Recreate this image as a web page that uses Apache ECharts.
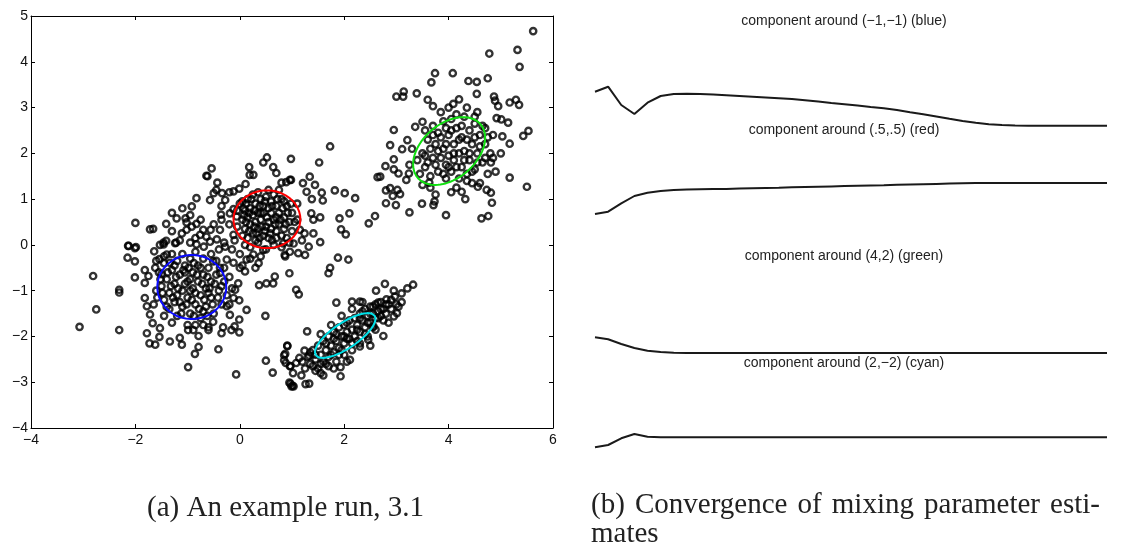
<!DOCTYPE html>
<html>
<head>
<meta charset="utf-8">
<script src="https://cdn.jsdelivr.net/npm/echarts@6/dist/echarts.min.js"></script>
<style>
  html, body { margin: 0; padding: 0; background: #fff; }
  #main { width: 1143px; height: 550px; }
</style>
</head>
<body>
<div id="main"></div>
<script>
// scatter points, grouped by the cluster they sit in
const bluePts = [
  [-2.81, -0.68], [-2.75, -1.41], [-3.07, -1.79], [-2.31, -0.98], [-2.31, -1.04], [-2.31, -1.86],
  [-2.14, -0.02], [-2.01, -0.07], [-2.15, -0.28], [-2.01, -0.36], [-2.01, -0.71], [-1.82, -0.83],
  [-1.75, -0.68], [-1.82, -0.55], [-1.62, -0.5], [-1.54, -0.31], [-1.64, -0.14], [-1.46, 0.01],
  [-1.24, 0.04], [-1.4, -0.21], [-1.34, -0.39], [-1.5, -0.64], [-1.82, -1.16], [-1.78, -1.34],
  [-1.72, -1.52], [-1.67, -1.71], [-1.78, -1.93], [-1.73, -2.15], [-1.62, -2.18], [-1.54, -2.01],
  [-1.53, -1.82], [-1.34, -2.11], [-1.15, -2.03], [-1.11, -2.18], [-0.99, -1.86], [-0.99, -2.67],
  [-0.86, -2.38], [-0.79, -2.23], [-0.79, -1.99], [-0.89, -1.86], [-0.7, -1.75], [-0.6, -1.86],
  [-0.51, -1.68], [-0.41, -2.28], [-0.35, -1.93], [-0.32, -1.8], [-0.16, -1.86], [-0.1, -1.78],
  [-0.01, -1.91], [-0.07, -2.83], [-0.01, -1.63], [-0.01, -1.21], [0.13, -1.42], [-0.19, -1.53],
  [-0.25, -1.34], [-0.12, -1.16], [-0.09, -0.98], [-0.03, -0.84], [0.1, -0.58], [0.36, -0.4],
  [0.37, -0.88], [0.51, -0.84], [0.64, -0.84], [0.67, -0.69], [0.49, -1.55], [0.83, 0.03],
  [0.96, -0.15], [0.86, -0.22], [-0.51, -0.36], [-0.38, -0.61], [-0.25, -0.32], [-0.12, -0.39],
  [0.0, -0.5], [0.13, -0.32], [0.26, -0.21], [0.45, -0.11],
  [-1.55, -0.6], [-1.5, -0.9], [-1.45, -1.2], [-1.45, -0.4], [-1.4, -0.75], [-1.35, -1.05],
  [-1.35, -1.4], [-1.3, -0.55], [-1.25, -0.85], [-1.25, -1.25], [-1.2, -0.35], [-1.2, -1.55],
  [-1.15, -0.65], [-1.1, -1.0], [-1.1, -1.35], [-1.05, -0.45], [-1.0, -0.8], [-1.0, -1.15],
  [-0.95, -1.5], [-0.95, -0.3], [-0.9, -0.6], [-0.9, -0.95], [-0.85, -1.3], [-0.8, -0.45],
  [-0.8, -0.8], [-0.75, -1.1], [-0.75, -1.6], [-0.7, -0.3], [-0.7, -0.65], [-0.65, -0.95],
  [-0.65, -1.35], [-0.6, -0.5], [-0.55, -0.8], [-0.55, -1.15], [-0.5, -1.5], [-0.45, -0.35],
  [-0.45, -0.65], [-0.4, -1.0], [-0.35, -1.3], [-0.3, -0.8], [-0.25, -1.1], [-1.6, -1.0],
  [-1.65, -1.3], [-1.6, -0.35], [-1.0, -1.75], [-0.85, -1.75], [-0.6, -1.8], [-1.3, -1.7],
  [-1.45, -1.55], [-0.3, -0.5], [-0.2, -0.7], [-0.15, -0.95], [-0.2, -1.3], [-1.1, -0.2],
  [-0.85, -0.15], [-0.55, -0.2], [-1.3, -0.2], [-1.05, -0.6], [-0.7, -1.45], [-1.2, -1.1],
  [-0.95, -1.0], [-0.6, -1.05], [-0.3, 0.05], [-0.15, -0.1], [0.0, -0.2], [0.1, 0.0],
  [0.2, -0.3], [-0.4, -0.1], [0.3, -0.5], [0.05, -0.45], [-0.1, 0.1], [0.4, -0.25],
  [-1.52, -0.75], [-1.48, -1.05], [-1.38, -0.6], [-1.32, -0.9], [-1.28, -1.15], [-1.22, -0.7],
  [-1.18, -0.95], [-1.15, -1.25], [-1.08, -0.55], [-1.05, -0.85], [-1.02, -1.3], [-0.98, -0.5],
  [-0.95, -0.75], [-0.92, -1.2], [-0.88, -0.4], [-0.85, -1.05], [-0.82, -0.65], [-0.78, -1.4],
  [-0.72, -0.85], [-0.68, -1.2], [-0.62, -0.7], [-0.58, -0.95], [-0.52, -1.3], [-0.48, -0.85],
  [-0.42, -1.15], [-0.38, -0.5], [-1.4, -1.35], [-1.12, -1.5], [-0.88, -1.55], [-0.62, -1.55],
  [-1.25, -0.45], [-0.75, -0.5], [-1.58, -1.15], [-1.45, -0.25], [-0.35, -0.9]
];

const redPts = [
  [-2.0, 0.48], [-1.72, 0.34], [-1.66, 0.35], [-1.41, 0.46], [-1.21, 0.58], [-1.1, 0.8],
  [-0.92, 0.84], [-0.83, 1.02], [-0.64, 1.51], [-0.62, 1.5], [-0.54, 1.67], [-0.43, 1.36],
  [-0.45, 1.2], [-0.57, 0.98], [-0.5, 1.13], [-0.34, 1.13], [-0.2, 1.15], [-0.12, 1.17],
  [-0.28, 0.98], [-0.01, 1.23], [0.11, 1.33], [0.18, 1.7], [0.26, 1.53], [0.19, 1.53],
  [0.45, 1.8], [0.52, 1.91], [0.64, 1.7], [0.7, 1.57], [0.98, 1.88], [0.8, 1.36],
  [0.89, 1.37], [0.98, 1.42], [-2.13, -0.02], [-1.99, -0.05], [-1.53, 0.0], [-1.46, 0.05],
  [-1.41, 0.09], [-1.22, 0.05], [-1.11, 0.25], [-1.02, 0.33], [-0.92, 0.4], [-0.83, 0.46],
  [-1.02, 0.49], [-1.04, 0.58], [-0.76, 0.22], [-0.64, 0.18], [-0.7, 0.33], [-0.56, 0.33],
  [-0.38, 0.33], [-0.35, 0.55], [-0.36, 0.66], [-0.19, 0.69], [-0.12, 0.78], [0.0, 0.9],
  [0.07, 0.8], [-0.06, 0.62], [-0.05, 0.4], [-0.12, 0.22], [-0.28, -0.04], [-0.44, 0.12],
  [-0.57, 0.07], [-0.83, 0.01], [-0.95, 0.05], [-0.69, -0.04], [-1.3, 0.7], [-0.95, 0.65],
  [-0.75, 0.55], [-0.35, 0.85], [-0.2, 0.45], [-0.5, 0.45], [-0.85, 0.15], [-1.15, 0.1],
  [-1.3, 0.3],
  [0.05, 0.95], [0.1, 0.75], [0.15, 1.0], [0.2, 0.8], [0.25, 1.1], [0.3, 0.9], [0.35, 0.7],
  [0.4, 1.0], [0.45, 0.85], [0.5, 1.05], [0.55, 0.8], [0.6, 0.95], [0.65, 1.1], [0.7, 0.85],
  [0.75, 0.7], [0.8, 1.0], [0.85, 0.6], [0.9, 0.85], [0.95, 0.5], [1.0, 0.7], [0.05, 0.55],
  [0.1, 0.35], [0.15, 0.6], [0.2, 0.45], [0.25, 0.25], [0.3, 0.5], [0.35, 0.35], [0.4, 0.55],
  [0.45, 0.2], [0.5, 0.4], [0.55, 0.15], [0.6, 0.35], [0.65, 0.55], [0.7, 0.3], [0.75, 0.45],
  [0.8, 0.2], [0.85, 0.35], [0.9, 0.15], [1.0, 0.3], [0.3, 0.1], [0.15, 0.15], [0.05, 0.2],
  [0.6, 0.7], [0.25, 0.65], [0.45, 0.7], [0.7, 0.6], [0.35, 0.05], [0.65, 0.0], [0.95, 0.05],
  [0.2, -0.05], [0.5, -0.1], [0.8, -0.05],
  [0.08, 0.65], [0.12, 0.9], [0.18, 0.3], [0.22, 1.0], [0.28, 0.75], [0.32, 0.25], [0.38, 0.85],
  [0.42, 0.4], [0.48, 0.95], [0.52, 0.6], [0.58, 0.25], [0.62, 0.85], [0.68, 0.45], [0.72, 1.0],
  [0.78, 0.55], [0.82, 0.8], [0.88, 0.45], [0.92, 0.7], [0.98, 0.9], [1.05, 0.5], [0.12, 0.5],
  [0.38, 0.15], [0.55, 0.5], [0.48, 0.3], [0.62, 0.1], [0.85, 0.95], [0.28, 0.4], [0.4, 0.7],
  [0.7, 0.15], [0.18, 0.7], [0.55, 1.2], [0.35, 1.15], [0.75, 1.2], [1.1, 0.9], [1.1, 0.55],
  [-0.05, 0.75],
  [1.52, 1.8], [1.73, 2.15], [1.82, 1.19], [2.01, 1.13], [2.21, 1.02], [1.57, 1.14],
  [1.59, 0.97], [1.38, 1.0], [1.44, 1.31], [1.34, 1.49], [1.21, 1.35], [1.28, 1.16],
  [0.96, 1.42], [1.54, 0.6], [1.91, 0.58], [2.1, 0.69], [1.94, 0.34], [2.03, 0.23],
  [1.41, 0.55], [1.15, 0.33], [1.24, 0.25], [1.37, 0.69], [1.54, 0.06], [0.95, -0.62],
  [1.08, -0.98], [1.13, -1.08], [1.7, -0.62], [1.73, -0.5], [1.88, -0.28], [2.08, -0.32],
  [1.25, -0.22], [1.12, -0.18], [0.87, -0.25], [1.03, 0.03], [1.19, 0.1], [1.32, -0.04],
  [1.41, 0.25]
];

const greenPts = [
  [5.62, 4.67], [4.78, 4.18], [5.32, 4.26], [5.36, 3.89], [4.75, 3.64], [4.54, 3.56],
  [4.38, 3.58], [4.08, 3.75], [3.74, 3.75], [3.67, 3.55], [3.14, 3.35], [3.13, 3.24],
  [3.0, 3.24], [3.39, 3.31], [3.6, 3.17], [3.7, 3.03], [4.09, 3.08], [4.2, 3.18],
  [4.54, 3.3], [4.87, 3.24], [4.89, 3.15], [4.95, 3.03], [5.17, 3.11], [5.29, 3.17],
  [5.35, 3.06], [5.53, 2.49], [5.43, 2.38], [5.17, 2.21], [5.03, 2.37], [5.14, 2.67],
  [5.01, 2.74], [4.92, 2.77], [4.81, 1.8], [5.17, 1.47], [5.5, 1.27], [4.81, 1.14],
  [4.73, 1.2], [4.83, 0.92], [4.76, 0.63], [4.63, 0.58], [4.56, 1.27], [4.32, 1.0],
  [4.25, 1.16], [3.95, 0.65], [3.73, 0.95], [3.71, 0.87], [3.49, 0.9], [3.25, 0.71],
  [2.99, 0.87], [2.8, 0.91], [2.59, 0.63], [2.47, 0.47], [2.93, 1.07], [2.88, 1.24],
  [2.8, 1.19], [3.02, 1.2], [3.07, 1.11], [2.64, 1.48], [2.69, 1.49], [2.79, 1.72],
  [2.95, 1.65], [3.04, 1.56], [3.19, 1.42], [3.24, 1.56], [2.95, 1.87], [2.88, 2.18],
  [2.95, 2.51], [3.11, 2.09], [3.21, 2.29], [3.36, 2.58], [3.5, 2.69], [3.63, 1.36],
  [3.5, 1.31],
  [3.5, 2.0], [3.55, 1.7], [3.6, 2.3], [3.65, 1.5], [3.7, 2.6], [3.7, 1.9], [3.75, 2.2],
  [3.8, 1.6], [3.8, 2.45], [3.85, 1.9], [3.9, 2.7], [3.9, 2.1], [3.95, 1.45], [3.95, 1.75],
  [4.0, 2.4], [4.0, 1.95], [4.05, 2.75], [4.05, 1.6], [4.1, 2.2], [4.1, 1.85], [4.15, 2.55],
  [4.2, 1.45], [4.2, 2.0], [4.25, 2.35], [4.25, 1.7], [4.3, 2.8], [4.3, 2.05], [4.35, 1.55],
  [4.4, 2.5], [4.4, 1.85], [4.45, 2.2], [4.5, 2.65], [4.5, 1.65], [4.55, 2.0], [4.6, 2.4],
  [4.65, 1.8], [4.7, 2.2], [4.7, 2.55], [4.75, 1.55], [4.8, 2.0], [3.45, 1.55], [3.55, 2.5],
  [3.65, 1.25], [3.85, 2.9], [4.0, 3.0], [4.15, 1.25], [4.35, 3.0], [4.55, 2.9], [4.6, 1.35],
  [4.85, 2.4], [3.4, 1.85], [3.3, 2.1], [3.25, 1.75], [4.9, 1.6], [5.0, 2.0], [4.45, 1.35],
  [3.75, 1.1], [4.05, 1.15],
  [3.6, 1.8], [3.65, 2.1], [3.75, 1.75], [3.8, 2.05], [3.85, 2.35], [3.9, 1.55], [3.95, 2.2],
  [4.0, 1.7], [4.05, 2.5], [4.1, 2.0], [4.15, 1.7], [4.2, 2.3], [4.25, 2.6], [4.3, 1.85],
  [4.35, 2.3], [4.4, 2.0], [4.45, 1.6], [4.5, 2.35], [4.55, 1.8], [4.6, 2.15], [4.65, 2.6],
  [4.7, 1.9], [3.95, 2.55], [4.15, 2.85], [4.35, 1.4], [3.7, 2.4], [4.75, 2.35], [4.85, 1.9],
  [3.55, 1.95], [4.5, 2.8]
];

const cyanPts = [
  [3.32, -0.87], [3.21, -0.95], [3.1, -1.06], [2.97, -1.13], [2.78, -0.85], [2.61, -1.0],
  [1.85, -1.26], [2.15, -1.24], [2.3, -1.24], [2.65, -1.26], [2.81, -1.19], [3.04, -1.35],
  [3.01, -1.49], [2.95, -1.56], [2.75, -1.99], [2.56, -1.78], [2.46, -2.07], [2.3, -2.22],
  [2.11, -2.51], [1.93, -2.67], [1.93, -2.87], [1.29, -1.89], [1.24, -2.31], [1.33, -2.42],
  [1.14, -2.47], [1.08, -2.58], [0.99, -3.09], [0.91, -2.21], [0.85, -2.41], [0.88, -2.58],
  [0.97, -2.65], [1.18, -2.85], [1.33, -3.03], [0.97, -3.03], [1.03, -3.09], [1.26, -3.04],
  [0.5, -2.53], [0.63, -2.79], [0.91, -2.2], [0.87, -2.38], [0.85, -2.52], [0.96, -2.65],
  [1.02, -2.8], [0.95, -3.01], [1.01, -3.08],
  [1.3, -2.45], [1.35, -2.6], [1.4, -2.3], [1.45, -2.5], [1.5, -2.7], [1.5, -2.2],
  [1.55, -2.4], [1.6, -2.55], [1.6, -2.1], [1.65, -2.3], [1.7, -2.45], [1.7, -2.0],
  [1.75, -2.2], [1.8, -2.35], [1.8, -1.9], [1.85, -2.1], [1.9, -2.25], [1.9, -1.8],
  [1.95, -2.0], [2.0, -2.15], [2.0, -1.75], [2.05, -1.9], [2.1, -2.05], [2.1, -1.65],
  [2.15, -1.85], [2.2, -2.0], [2.2, -1.6], [2.25, -1.75], [2.3, -1.9], [2.3, -1.5],
  [2.35, -1.65], [2.4, -1.8], [2.4, -1.4], [2.45, -1.55], [2.5, -1.7], [2.5, -1.35],
  [2.55, -1.5], [2.6, -1.6], [2.6, -1.3], [2.65, -1.45], [2.7, -1.55], [2.7, -1.25],
  [2.75, -1.4], [2.8, -1.5], [2.85, -1.3], [2.9, -1.4], [1.4, -2.65], [1.55, -2.8],
  [1.7, -2.65], [1.85, -2.55], [2.0, -2.4], [2.15, -2.3], [2.3, -2.15], [2.45, -2.0],
  [2.6, -1.85], [1.55, -1.95], [1.75, -1.75], [1.95, -1.55], [2.15, -1.4], [2.35, -1.25],
  [1.2, -2.55], [1.25, -2.7], [1.6, -2.85], [1.8, -2.7], [2.05, -2.55], [2.5, -2.2],
  [2.85, -1.7], [3.1, -1.25], [2.95, -1.0],
  [1.35, -2.35], [1.45, -2.4], [1.55, -2.6], [1.65, -2.15], [1.75, -2.4], [1.85, -1.95],
  [1.9, -2.4], [2.0, -2.0], [2.05, -1.7], [2.15, -2.15], [2.25, -1.85], [2.3, -1.6],
  [2.4, -1.95], [2.45, -1.7], [2.5, -1.5], [2.55, -1.8], [2.65, -1.6], [2.7, -1.4],
  [2.8, -1.3], [2.9, -1.2], [1.65, -2.6], [1.95, -2.3], [2.25, -2.1], [2.55, -1.35],
  [2.05, -2.05], [1.8, -2.05], [2.35, -1.45], [1.45, -2.75], [2.75, -1.65], [3.0, -1.3]
];

// fitted components: [cx, cy, x half-extent, y half-extent, cross term]
const ellipseBlue = [-0.92, -0.92, 0.66, 0.70, 0];
const ellipseRed = [0.52, 0.56, 0.64, 0.63, 0];
const ellipseGreen = [4.01, 2.05, 0.69, 0.74, 0.20];
const ellipseCyan = [2.02, -1.98, 0.58, 0.49, 0.213];

// mixing parameter estimates per iteration (right panel, height within each strip)
const mixBlue = [38.3, 43.3, 25.0, 16.0, 27.3, 34.0, 36.0, 36.2, 36.0, 35.4, 34.7, 34.0, 33.3, 32.5,
  31.7, 30.9, 29.7, 28.4, 27.1, 25.8, 24.5, 23.1, 21.8, 20.0, 17.8, 15.8, 13.5, 11.2, 9.0, 7.2,
  5.8, 4.9, 4.5, 4.3, 4.3, 4.3, 4.3, 4.3, 4.3, 4.3];
const mixRed = [6.0, 8.3, 16.7, 24.0, 27.3, 29.0, 30.0, 30.4, 30.7, 30.9, 31.1, 31.4, 31.7, 32.0,
  32.3, 32.7, 33.0, 33.3, 33.6, 33.9, 34.2, 34.5, 34.8, 35.2, 35.5, 35.8, 36.1, 36.4, 36.7, 36.9,
  37.0, 37.0, 37.0, 37.0, 37.0, 37.0, 37.0, 36.9, 36.9, 36.9];
const mixGreen = [22.7, 20.7, 16.0, 12.0, 9.3, 8.0, 7.3, 7.0, 7.0, 7.0, 7.0, 7.0, 7.0, 7.0, 7.0,
  7.0, 7.0, 7.0, 7.0, 7.0, 7.0, 7.0, 7.0, 7.0, 7.0, 7.0, 7.0, 7.0, 7.0, 7.0, 7.0, 7.0, 7.0, 7.0,
  7.0, 7.0, 7.0, 7.0, 7.0, 7.0];
const mixCyan = [7.7, 10.0, 16.7, 21.0, 18.3, 17.7, 17.7, 17.7, 17.7, 17.7, 17.7, 17.7, 17.7, 17.7,
  17.7, 17.7, 17.7, 17.7, 17.7, 17.7, 17.7, 17.7, 17.7, 17.7, 17.7, 17.7, 17.7, 17.7, 17.7, 17.7,
  17.7, 17.8, 17.8, 17.8, 17.8, 17.8, 17.8, 17.8, 17.8, 17.8];

const panelTitles = [
  'component around (\u22121,\u22121) (blue)',
  'component around (.5,.5) (red)',
  'component around (4,2) (green)',
  'component around (2,\u22122) (cyan)'
];
const xTicks = [-4, -2, 0, 2, 4, 6];
const yTicks = [-4, -3, -2, -1, 0, 1, 2, 3, 4, 5];
const captionA = '(a) An example run, 3.1';
const captionB1 = ['(b)', 'Convergence', 'of', 'mixing', 'parameter', 'esti-'];
const captionB2 = 'mates';

const chart = echarts.init(document.getElementById('main'));

function ellipsePath(e) {
  const [cx, cy, sx, sy, c] = e;
  const l21 = c / sx;
  const l22 = Math.sqrt(sy * sy - l21 * l21);
  const out = [];
  for (let i = 0; i <= 90; i++) {
    const t = (i / 90) * Math.PI * 2;
    out.push([cx + sx * Math.cos(t), cy + l21 * Math.cos(t) + l22 * Math.sin(t)]);
  }
  return out;
}

const minus = (v) => String(v).replace('-', '\u2212');
const tickFont = { fontFamily: 'Liberation Sans', fontSize: 14, color: '#111' };

// strips of the right panel: top and height in px, y range of each strip
const strips = [
  { top: 80, height: 50, max: 50, data: mixBlue, titleY: 21 },
  { top: 175, height: 45, max: 45, data: mixRed, titleY: 130 },
  { top: 330, height: 30, max: 30, data: mixGreen, titleY: 256 },
  { top: 425, height: 30, max: 30, data: mixCyan, titleY: 363 }
];

function boxAxis(extra, labels) {
  return Object.assign({
    gridIndex: 0, type: 'value',
    axisLine: { onZero: false, lineStyle: { color: '#000', width: 1 } },
    axisTick: { inside: true, length: 4, lineStyle: { color: '#000' } },
    axisLabel: labels ? { ...tickFont, formatter: minus } : { show: false },
    splitLine: { show: false }
  }, extra);
}

const grids = [{ left: 31, top: 16, width: 522, height: 412 }];
const xAxes = [
  boxAxis({ min: xTicks[0], max: xTicks[xTicks.length - 1], interval: 2 }, true),
  boxAxis({ position: 'top', min: xTicks[0], max: xTicks[xTicks.length - 1], interval: 2 }, false)
];
xAxes[0].axisLabel.margin = 5;
const yAxes = [
  boxAxis({ min: yTicks[0], max: yTicks[yTicks.length - 1], interval: 1 }, true),
  boxAxis({ position: 'right', min: yTicks[0], max: yTicks[yTicks.length - 1], interval: 1 }, false)
];
yAxes[0].axisLabel.margin = 3;

const pointStyle = { color: 'rgba(0,0,0,0)', borderColor: '#000', borderWidth: 2.4 };
const series = [bluePts, redPts, greenPts, cyanPts].map((pts) => ({
  type: 'scatter', xAxisIndex: 0, yAxisIndex: 0, data: pts,
  symbol: 'circle', symbolSize: 6.3, itemStyle: pointStyle, silent: true
}));

const ellipses = [
  [ellipseBlue, '#0a0aff'],
  [ellipseRed, '#ff0000'],
  [ellipseGreen, '#10e010'],
  [ellipseCyan, '#00e0e8']
];
ellipses.forEach(([e, col]) => {
  series.push({
    type: 'line', xAxisIndex: 0, yAxisIndex: 0, data: ellipsePath(e),
    showSymbol: false, smooth: false, lineStyle: { color: col, width: 2 }, z: 5
  });
});

const graphic = [];
strips.forEach((s, i) => {
  const g = grids.length;
  const xi = xAxes.length;
  const yi = yAxes.length;
  grids.push({ left: 595, width: 512, top: s.top, height: s.height });
  xAxes.push({ gridIndex: g, type: 'value', min: 0, max: s.data.length - 1, show: false });
  yAxes.push({ gridIndex: g, type: 'value', min: 0, max: s.max, show: false });
  series.push({
    type: 'line', xAxisIndex: xi, yAxisIndex: yi,
    data: s.data.map((v, k) => [k, v]),
    showSymbol: false, smooth: false,
    lineStyle: { color: '#1a1a1a', width: 2 }
  });
  graphic.push({
    type: 'text', x: 844, y: s.titleY,
    style: { text: panelTitles[i], font: '14px "Liberation Sans"', fill: '#222', align: 'center', verticalAlign: 'middle' }
  });
});

// captions; the first line of (b) is justified between 591 and 1100 like the typeset page
const capFont = '29px "Liberation Serif"';
graphic.push({
  type: 'text', x: 147, y: 508,
  style: { text: captionA, font: capFont, fill: '#222', align: 'left', verticalAlign: 'middle' }
});
const ctx = document.createElement('canvas').getContext('2d');
ctx.font = capFont;
const widths = captionB1.map((w) => ctx.measureText(w).width);
const gap = (1100 - 591 - widths.reduce((a, b) => a + b, 0)) / (captionB1.length - 1);
let cx = 591;
captionB1.forEach((w, i) => {
  graphic.push({
    type: 'text', x: cx, y: 505,
    style: { text: w, font: capFont, fill: '#222', align: 'left', verticalAlign: 'middle' }
  });
  cx += widths[i] + gap;
});
graphic.push({
  type: 'text', x: 591, y: 534,
  style: { text: captionB2, font: capFont, fill: '#222', align: 'left', verticalAlign: 'middle' }
});

const option = {
  animation: false,
  backgroundColor: '#fff',
  grid: grids,
  xAxis: xAxes,
  yAxis: yAxes,
  series: series,
  graphic: graphic
};
option && chart.setOption(option);
</script>
</body>
</html>
